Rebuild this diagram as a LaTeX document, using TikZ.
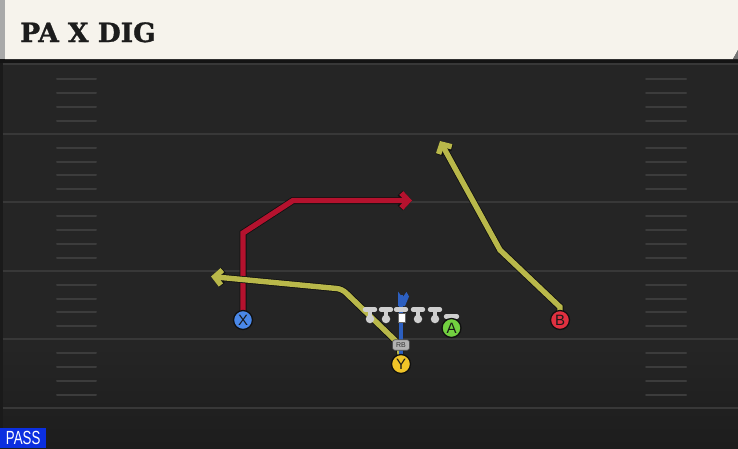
\documentclass[tikz,border=0pt]{standalone}
\usepackage{fontspec}
\setmainfont{Liberation Sans}
\newfontfamily\titlefont{DejaVu Serif}[BoldFeatures={FakeBold=1.3}]
\newfontfamily\labelfont{Liberation Sans}
\usetikzlibrary{arrows.meta}
\definecolor{field}{HTML}{252525}
\definecolor{fieldbot}{HTML}{1D1D1D}
\definecolor{yardcol}{HTML}{383838}
\definecolor{hashcol}{HTML}{3C3C3C}
\definecolor{cream}{HTML}{F6F3EC}
\definecolor{stripgray}{HTML}{A9A9A9}
\definecolor{titlecol}{HTML}{1C1C1C}
\definecolor{passblue}{HTML}{0B2FE0}
\definecolor{routered}{HTML}{B5122E}
\definecolor{routeyel}{HTML}{B9B84A}
\definecolor{routeedge}{HTML}{101010}
\definecolor{qbblue}{HTML}{2C5FC0}
\definecolor{olgray}{HTML}{CFCFCF}
\definecolor{pblue}{HTML}{4A88E8}
\definecolor{pred}{HTML}{E03040}
\definecolor{pgreen}{HTML}{72D040}
\definecolor{pyellow}{HTML}{F0C428}
\tikzset{
  yard/.style={draw=yardcol, line width=2pt},
  hash/.style={draw=hashcol, line width=2pt, line cap=round},
  route/.style={line width=5.4pt, line join=miter,
    -{Straight Barb[length=7pt,width=15pt]},
    preaction={draw=routeedge, line width=7pt}},
  player/.style={circle, draw=routeedge, line width=1.3pt, minimum size=19pt,
    inner sep=0pt, font=\labelfont\fontsize{15}{15}\selectfont, text=black!90},
  oldot/.style={circle, fill=olgray, minimum size=8.5pt, inner sep=0pt},
  olstem/.style={draw=olgray, line width=4pt},
  olbar/.style={draw=olgray, line width=4.4pt, line cap=round},
  rbbox/.style={rounded corners=2.5pt, fill=black!30!white, draw=black!70, line width=0.6pt,
    minimum width=17pt, minimum height=10.5pt, inner sep=0pt,
    font=\labelfont\fontsize{7}{7}\selectfont, text=black!80},
}
\begin{document}
\begin{tikzpicture}[x=1pt,y=-1pt]
\useasboundingbox (0,0) rectangle (738,448);
% field
\fill[field] (0,0) rectangle (738,448);
\shade[top color=field, bottom color=fieldbot] (0,345) rectangle (738,448);
\fill[black!30!field] (0,60) rectangle (2.5,448);
\foreach \yl in {64,133.5,202,270.5,339,407.5}
  \draw[yard] (2.5,\yl) -- (738,\yl);
\foreach \b in {65,133.5,202,270.5,339}{
  \foreach \o in {14,28,41.5,55.5}{
    \pgfmathsetmacro\yy{\b+\o}
    \draw[hash] (57,\yy) -- (96,\yy);
    \draw[hash] (646,\yy) -- (686,\yy);
  }
}
% header
\fill[black!92] (0,57) rectangle (738,62.5);
\fill[cream] (5,0) -- (738,0) -- (738,50) -- (733,59) -- (5,59) -- cycle;
\fill[black!55] (733,59) -- (738,50) -- (738,59) -- cycle;
\fill[stripgray] (0,0) rectangle (5,59);
\node[anchor=base west, inner sep=0pt, text=titlecol,
  font=\titlefont\bfseries\fontsize{26.5}{30}\selectfont] (title) at (20,42) {PA X DIG};
% pass label
\node[fill=passblue, text=white, anchor=south west, minimum width=46pt, minimum height=20pt,
  inner sep=0pt, font=\labelfont\fontsize{19}{19}\selectfont] (pass) at (0,448)
  {\scalebox{0.7}[1]{PASS}};
% positions
\coordinate (pX) at (243,320);
\coordinate (pB) at (560,320);
\coordinate (pA) at (451.5,328);
\coordinate (pY) at (401,364);
\coordinate (pRB) at (401,345);
\coordinate (qbtop) at (401,295);
% X route
\coordinate (x1) at (243,233);
\coordinate (x2) at (293,200.5);
\coordinate (x3) at (412,200.5);
\draw[route, draw=routered] (pX) -- (x1) -- (x2) -- (x3);
% Y route
\coordinate (y1) at (399,344);
\coordinate (y2) at (342,289);
\coordinate (y3) at (211,276.5);
\draw[route, draw=routeyel, rounded corners=5pt] (pY) -- (y1) -- (y2) -- (y3);
% B route
\coordinate (b1) at (560,307);
\coordinate (b2) at (500,250);
\coordinate (b3) at (440,141);
\draw[route, draw=routeyel] (pB) -- (b1) -- (b2) -- (b3);
% QB / center line
\draw[draw=qbblue, line width=4.5pt] (qbtop) -- (pY);
\fill[qbblue] (398,306) -- (398,291.5) -- (402.5,297.5) -- (406.5,292) -- (409,296.5) -- (405,306) -- cycle;
% offensive line
\foreach \n/\xx in {1/370,2/386,4/418,5/435}{
  \node[oldot] (ol\n) at (\xx,319) {};
  \draw[olstem] (ol\n.center) -- (\xx,309.5);
  \draw[olbar] (\xx-5,309.5) -- (\xx+5,309.5);
}
\draw[olbar] (396,309.5) -- (406,309.5);
\node[fill=white, draw=black!60, line width=0.4pt, minimum width=7.5pt, minimum height=9.5pt, inner sep=0pt] (ctr) at (401.5,317.5) {};
% A block
\draw[olbar] (446,316.5) -- (457,316.5);
% RB badge
\node[rbbox] (rb) at (pRB) {RB};
% players
\node[player, fill=pblue] (X) at (pX) {X};
\node[player, fill=pred] (B) at (pB) {B};
\node[player, fill=pgreen] (A) at (pA) {A};
\node[player, fill=pyellow] (Y) at (pY) {Y};
\end{tikzpicture}
\end{document}
